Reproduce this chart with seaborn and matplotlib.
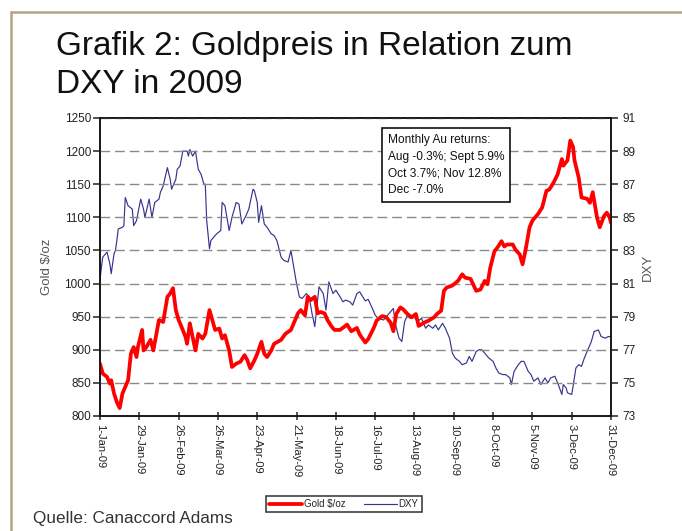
import matplotlib
matplotlib.use("Agg")
import matplotlib.pyplot as plt
from matplotlib.lines import Line2D
import seaborn as sns
import pandas as pd
import numpy as np

# ---------------- data ----------------
title_lines = ["Grafik 2: Goldpreis in Relation zum", "DXY in 2009"]
source_text = "Quelle: Canaccord Adams"
box_text = ["Monthly Au returns:", "Aug -0.3%; Sept 5.9%", "Oct 3.7%; Nov 12.8%", "Dec -7.0%"]
series_names = ["Gold $/oz", "DXY"]

gold_days = [0, 2, 5, 7, 8, 10, 12, 14, 16, 18, 20, 22, 24, 26, 27, 30, 31, 33, 36, 38,
             42, 45, 48, 50, 52, 54, 56, 58, 61, 62, 64, 66, 68, 70, 73, 75, 78, 80, 82, 85,
             87, 89, 92, 94, 97, 100, 103, 105, 107, 110, 112, 115, 117, 119, 122, 124, 129, 132, 136, 138,
             141, 143, 146, 148, 150, 153, 155, 157, 160, 162, 165, 167, 171, 176, 179, 183, 185, 189, 191, 195,
             197, 201, 204, 207, 209, 211, 214, 216, 219, 222, 225, 227, 231, 234, 238, 240, 243, 245, 247, 251,
             255, 258, 260, 264, 268, 271, 274, 276, 278, 281, 283, 286, 288, 290, 294, 296, 299, 301, 303, 306,
             308, 312, 315, 318, 320, 323, 326, 329, 330, 333, 335, 337, 338, 341, 343, 347, 349, 351, 354, 356,
             359, 361, 363, 364]
gold_vals = [879, 864, 859, 849, 854, 834, 821, 812, 834, 844, 854, 894, 904, 889, 904, 930, 899, 904, 915, 899,
             945, 942, 980, 985, 993, 960, 945, 935, 919, 909, 940, 919, 899, 924, 917, 924, 960, 945, 930, 932,
             917, 922, 899, 874, 879, 882, 892, 884, 872, 884, 894, 912, 894, 889, 899, 909, 915, 924, 930, 940,
             955, 960, 952, 980, 975, 980, 955, 957, 955, 945, 935, 930, 930, 938, 928, 933, 923, 911, 916, 933,
             944, 951, 949, 941, 928, 954, 964, 961, 954, 949, 954, 936, 941, 944, 949, 954, 959, 989, 994, 997,
             1004, 1014, 1009, 1007, 989, 991, 1004, 999, 1024, 1049, 1054, 1064, 1056, 1059, 1059, 1051, 1044, 1029, 1049, 1085,
             1095, 1105, 1115, 1140, 1142, 1152, 1165, 1188, 1178, 1186, 1216, 1206, 1186, 1160, 1130, 1128, 1122, 1138, 1100, 1085,
             1102, 1107, 1100, 1092]

dxy_days = [0, 1, 2, 5, 7, 8, 10, 11, 12, 13, 16, 17, 18, 20, 23, 24, 26, 29, 31, 32,
            35, 37, 39, 42, 43, 45, 48, 50, 51, 54, 55, 57, 59, 62, 63, 64, 66, 68, 70, 72,
            74, 75, 76, 78, 79, 81, 83, 86, 87, 89, 92, 94, 97, 99, 101, 104, 106, 109, 110, 112,
            113, 115, 117, 119, 122, 124, 126, 129, 131, 134, 136, 138, 140, 142, 144, 147, 149, 151, 153, 154,
            156, 159, 161, 163, 166, 168, 171, 173, 175, 178, 180, 183, 185, 189, 191, 194, 196, 198, 202, 204,
            207, 209, 210, 213, 215, 217, 219, 221, 223, 226, 229, 232, 234, 237, 239, 241, 244, 246, 249, 251,
            253, 256, 258, 261, 263, 265, 268, 270, 272, 275, 277, 280, 282, 284, 287, 289, 292, 293, 295, 298,
            300, 302, 305, 307, 309, 312, 314, 317, 319, 321, 324, 326, 329, 330, 332, 333, 336, 337, 339, 341,
            343, 345, 348, 350, 352, 355, 357, 360, 362, 364]
dxy_vals = [81.2, 82.0, 82.6, 82.9, 82.2, 81.6, 82.8, 83.0, 83.6, 84.3, 84.4, 84.5, 86.2, 85.7, 85.5, 84.5, 84.8, 86.1, 85.5, 85.0,
            86.1, 85.0, 85.9, 86.1, 86.5, 86.9, 88.0, 87.3, 86.7, 87.3, 87.9, 88.1, 89.0, 89.0, 88.7, 89.1, 88.7, 89.0, 87.9, 87.6,
            87.0, 87.0, 84.8, 83.1, 83.6, 83.8, 84.0, 84.2, 85.9, 85.7, 84.2, 85.0, 85.9, 85.8, 84.6, 85.1, 85.5, 86.7, 86.6, 85.9,
            84.7, 85.7, 84.6, 84.4, 84.0, 83.9, 83.6, 82.6, 82.4, 82.3, 83.0, 82.0, 81.0, 80.2, 80.1, 80.4, 80.2, 79.2, 78.4, 79.2,
            80.8, 80.4, 79.4, 81.1, 80.4, 80.6, 80.2, 79.9, 80.0, 79.9, 79.7, 80.4, 80.5, 79.95, 80.05, 79.5, 79.1, 78.9, 78.8, 79.0,
            79.3, 79.5, 78.7, 77.7, 77.5, 78.7, 79.1, 78.9, 79.1, 78.7, 78.9, 78.3, 78.5, 78.3, 78.5, 78.2, 78.6, 78.3, 77.7, 76.8,
            76.5, 76.3, 76.1, 76.2, 76.6, 76.3, 76.9, 77.0, 77.0, 76.7, 76.5, 76.3, 75.9, 75.6, 75.5, 75.5, 75.3, 74.9, 75.7, 76.1,
            76.3, 76.3, 75.7, 75.5, 75.1, 75.3, 74.9, 75.3, 75.0, 75.3, 75.4, 75.0, 74.3, 74.9, 74.7, 74.4, 74.3, 74.8, 75.9, 76.1,
            76.0, 76.5, 77.1, 77.5, 78.1, 78.2, 77.8, 77.7, 77.8, 77.8]

x_tick_dates = ["2009-01-01", "2009-01-29", "2009-02-26", "2009-03-26", "2009-04-23", "2009-05-21", "2009-06-18",
                "2009-07-16", "2009-08-13", "2009-09-10", "2009-10-08", "2009-11-05", "2009-12-03", "2009-12-31"]
x_tick_labels = ["1-Jan-09", "29-Jan-09", "26-Feb-09", "26-Mar-09", "23-Apr-09", "21-May-09", "18-Jun-09",
                 "16-Jul-09", "13-Aug-09", "10-Sep-09", "8-Oct-09", "5-Nov-09", "3-Dec-09", "31-Dec-09"]
gold_ticks = [800, 850, 900, 950, 1000, 1050, 1100, 1150, 1200, 1250]
dxy_ticks = [73, 75, 77, 79, 81, 83, 85, 87, 89, 91]

# ---------------- build frames ----------------
start = pd.Timestamp("2009-01-01")
gold_df = pd.DataFrame({"date": start + pd.to_timedelta(gold_days, unit="D"), "value": gold_vals})
dxy_df = pd.DataFrame({"date": start + pd.to_timedelta(dxy_days, unit="D"), "value": dxy_vals})

sns.set_style("white")
plt.rcParams["font.family"] = ["Liberation Sans", "DejaVu Sans"]

fig = plt.figure(figsize=(6.82, 5.31), dpi=100)
ax = fig.add_axes([100 / 682, 1 - 416 / 531, 511 / 682, 298 / 531])
ax2 = ax.twinx()

red = "#ff0000"
navy = "#35358f"

sns.lineplot(data=dxy_df, x="date", y="value", ax=ax2, color=navy, lw=0.85, label=series_names[1], legend=False)
sns.lineplot(data=gold_df, x="date", y="value", ax=ax, color=red, lw=2.7, label=series_names[0], legend=False)

ax.set_zorder(ax2.get_zorder() + 1)
ax.patch.set_visible(False)

ax.set_ylim(gold_ticks[0], gold_ticks[-1])
ax2.set_ylim(dxy_ticks[0], dxy_ticks[-1])
ax.set_yticks(gold_ticks)
ax2.set_yticks(dxy_ticks)
ax.set_xlim(pd.Timestamp(x_tick_dates[0]), pd.Timestamp(x_tick_dates[-1]))
ax.set_xticks(pd.to_datetime(x_tick_dates))
ax.set_xticklabels(x_tick_labels, rotation=-90, fontsize=8, color="#222222")

ax.grid(axis="y", color="#8a8a8a", lw=1.0, linestyle=(0, (7, 3.5)))
ax.grid(axis="x", visible=False)
ax2.grid(False)

for a in (ax, ax2):
    for s in a.spines.values():
        s.set_visible(True)
        s.set_color("#111111")
        s.set_linewidth(1.1)

ax.tick_params(axis="y", direction="out", length=5, width=1.1, labelsize=8.5, colors="#222222", pad=1.5, left=True)
ax2.tick_params(axis="y", direction="out", length=5, width=1.1, labelsize=8.5, colors="#222222", pad=3, right=True)
ax.tick_params(axis="x", direction="inout", length=6, width=1.1, pad=3, bottom=True)

ax.set_xlabel("")
ax.set_ylabel(series_names[0], fontsize=9.5, color="#555555", labelpad=8)
ax2.set_ylabel(series_names[1], fontsize=9.5, color="#555555", labelpad=5)

# annotation box
ax.text(0.563, 0.945, "\n".join(box_text), transform=ax.transAxes, ha="left", va="top",
        fontsize=8.6, color="#111111", linespacing=1.5,
        bbox=dict(boxstyle="square,pad=0.5", fc="white", ec="#111111", lw=1.2))

# legend
h1 = Line2D([], [], color=red, lw=2.7)
h2 = Line2D([], [], color=navy, lw=0.85)
leg = fig.legend([h1, h2], series_names, loc="center", bbox_to_anchor=(344 / 682, 1 - 504 / 531),
                 ncol=2, fontsize=7, frameon=True, fancybox=False, handlelength=3.4,
                 handletextpad=0.2, columnspacing=1.8, borderpad=0.35)
leg.get_frame().set_edgecolor("#111111")
leg.get_frame().set_linewidth(1.2)

# title & source
fig.text(56 / 682, 1 - 55 / 531, title_lines[0], fontsize=24, color="#111111", va="baseline")
fig.text(56 / 682, 1 - 93 / 531, title_lines[1], fontsize=24, color="#111111", va="baseline")
fig.text(33 / 682, 1 - 518 / 531, source_text, fontsize=12.3, color="#333333", va="center")

# frame lines
border = "#b4a582"
fig.add_artist(Line2D([11 / 682, 1.0], [1 - 12 / 531, 1 - 12 / 531], color=border, lw=1.8, transform=fig.transFigure))
fig.add_artist(Line2D([11 / 682, 11 / 682], [0, 1 - 12 / 531], color=border, lw=1.8, transform=fig.transFigure))

fig.savefig("out.png", dpi=100, facecolor="white")
